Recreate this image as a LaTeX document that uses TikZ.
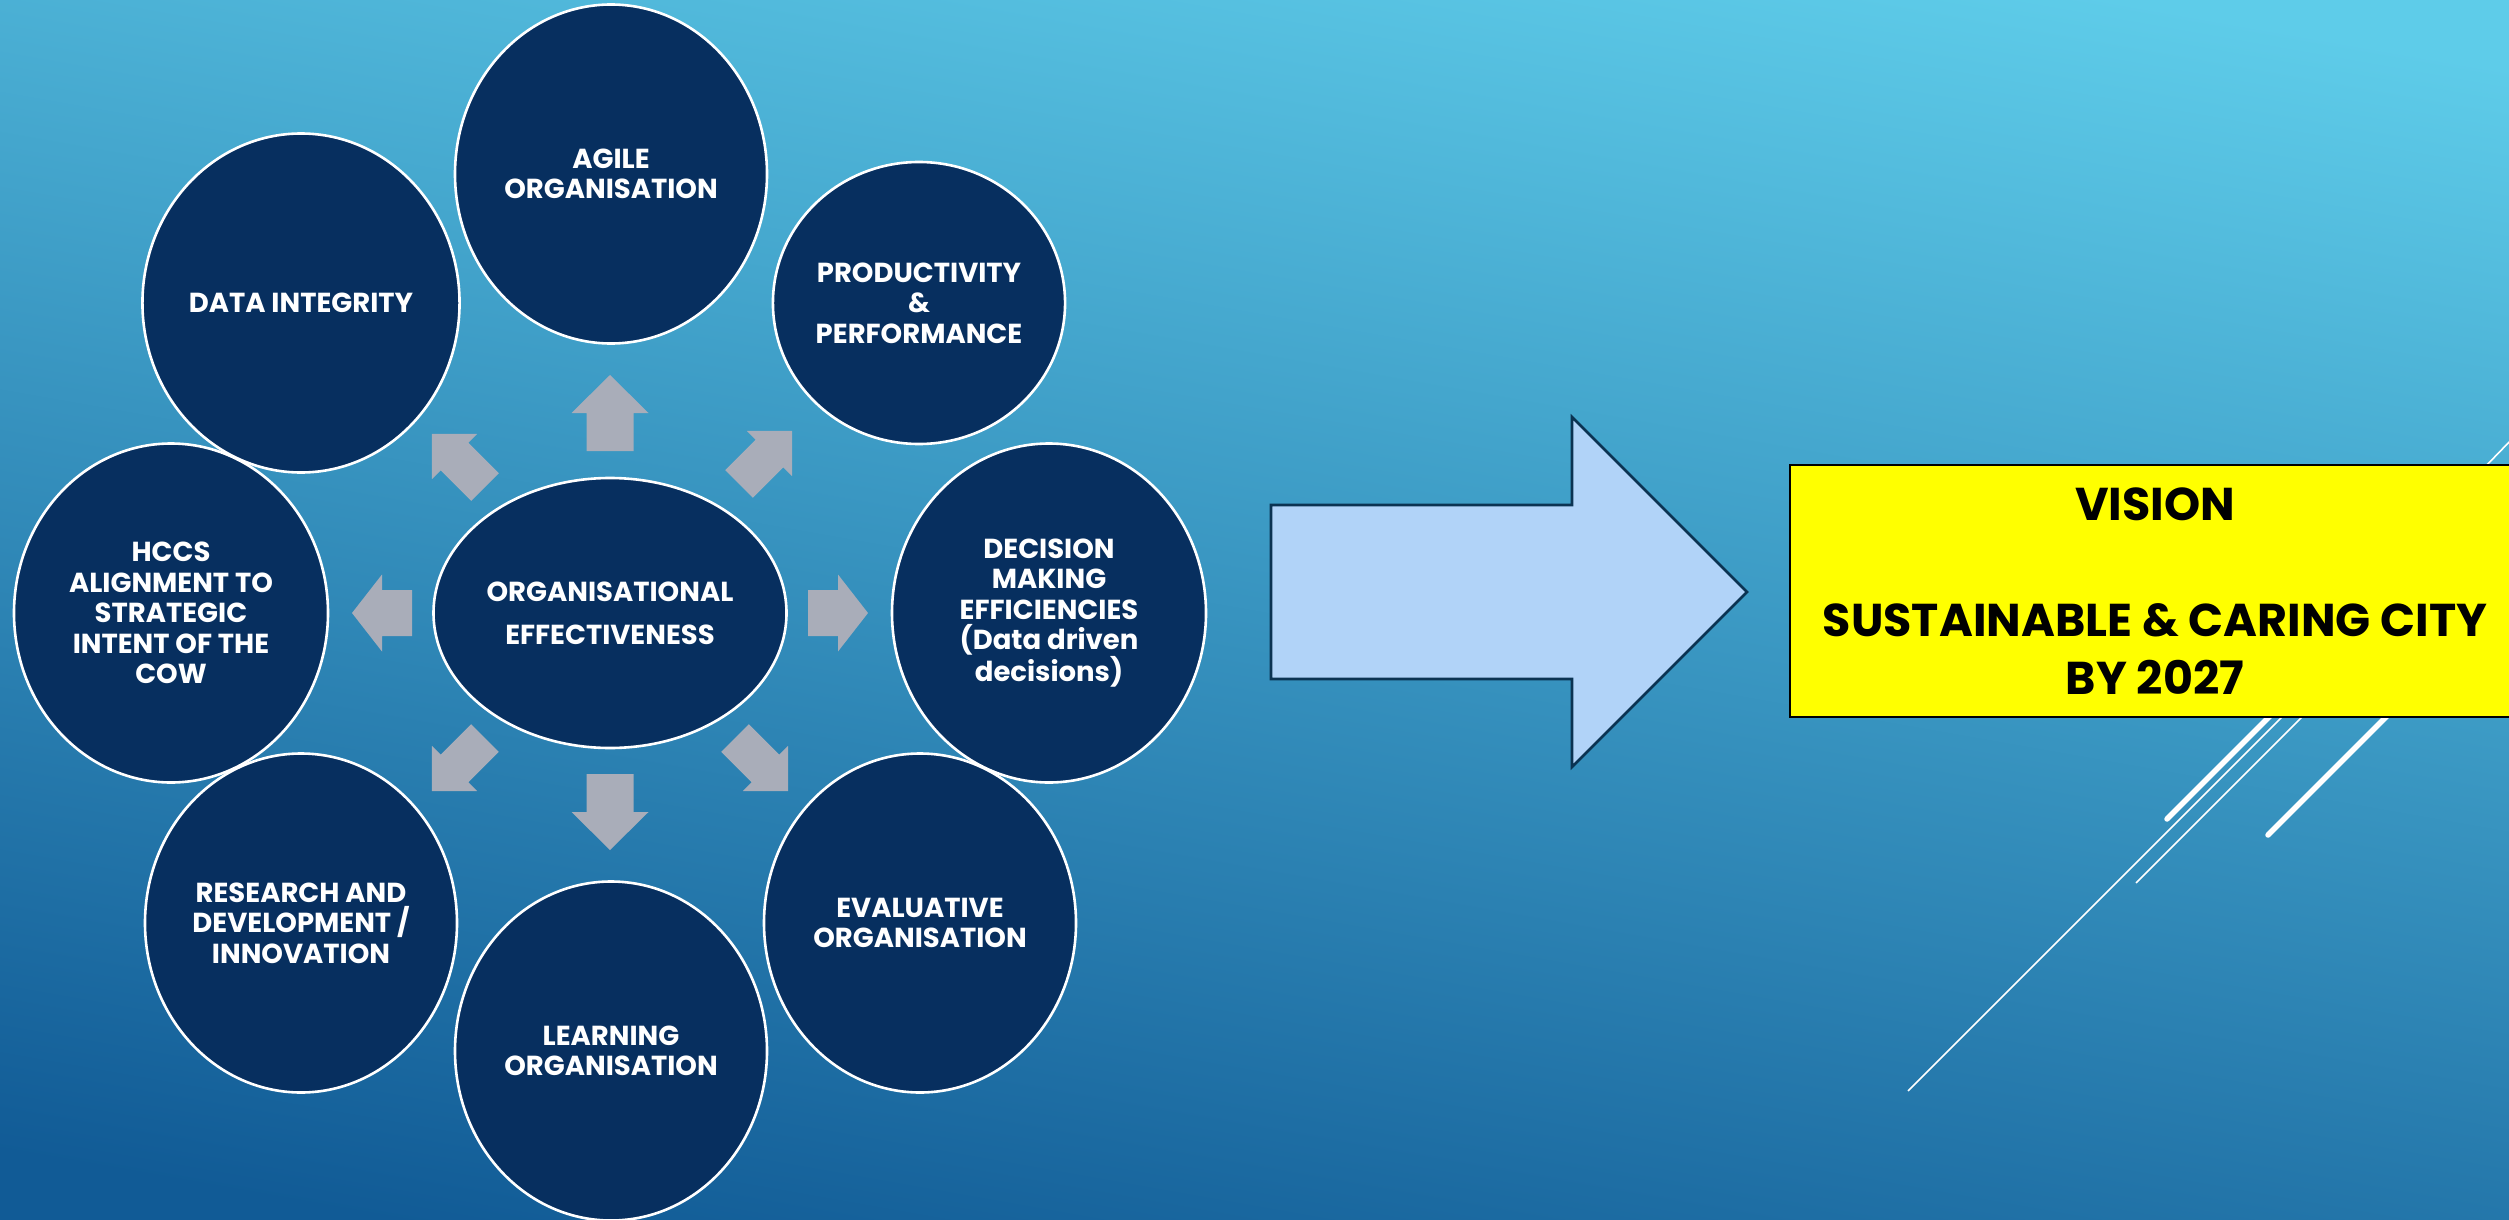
\documentclass[tikz,border=0pt]{standalone}
\usepackage{fontspec}
\setmainfont{Poppins}
\usetikzlibrary{shapes.geometric}
\definecolor{navy}{HTML}{072F5F}
\definecolor{arrowgrey}{HTML}{A9ADB9}
\definecolor{bigfill}{HTML}{B1D3F8}
\definecolor{bigedge}{HTML}{0B3352}
\definecolor{bgtop}{HTML}{5ECCE9}
\definecolor{bgbot}{HTML}{115B96}
\definecolor{visionyellow}{HTML}{FFFF00}
\tikzset{
  bubble/.style={ellipse, draw=white, line width=2.6pt, fill=navy, text=white,
    inner sep=0pt, align=center, minimum width=312pt, minimum height=339pt,
    font=\bfseries\fontsize{27.5}{30.5}\selectfont},
  smallarrow/.style={fill=arrowgrey},
  bigarrow/.style={fill=bigfill, draw=bigedge, line width=2.6pt, line join=miter},
  visionbox/.style={rectangle, fill=visionyellow, draw=black, line width=2pt,
    minimum width=731pt, minimum height=252pt, align=center, inner sep=0pt,
    font=\bfseries\fontsize{46}{58}\selectfont},
  decothin/.style={white, line width=1.6pt},
  decothick/.style={white, line width=5.5pt, line cap=round},
}
% #1,#2 tail centre; #3 angle; #4 shaft length; #5 head length; #6 shaft half width; #7 head half width
\newcommand\blkarrow[7]{%
  \fill[smallarrow, shift={(#1,#2)}, rotate=#3]
    (0,-#6) -- (#4,-#6) -- (#4,-#7) -- ({#4+#5},0) -- (#4,#7) -- (#4,#6) -- (0,#6) -- cycle;}
\begin{document}
\begin{tikzpicture}[x=1pt,y=-1pt]
\useasboundingbox (0,0) rectangle (2509,1220);
\clip (0,0) rectangle (2509,1220);
\shade[top color=bgtop, bottom color=bgbot, shading angle=-10] (-50,-50) rectangle (2560,1270);

% decorative lines
\coordinate (la1) at (1908,1091); \coordinate (la2) at (2300,699);
\coordinate (lb1) at (2136,883);  \coordinate (lb2) at (2318,701);
\coordinate (lc1) at (2167,819);  \coordinate (lc2) at (2285,701);
\coordinate (ld1) at (2268,835);  \coordinate (ld2) at (2402,701);
\coordinate (le1) at (2450,503);  \coordinate (le2) at (2545,405);
\draw[decothin] (la1) -- (la2);
\draw[decothin] (lb1) -- (lb2);
\draw[decothick] (lc1) -- (lc2);
\draw[decothick] (ld1) -- (ld2);
\draw[decothin] (le1) -- (le2);

% small arrows around the core
\blkarrow{610}{451}{90}{38}{38}{23.5}{38.5}
\blkarrow{610}{774}{270}{38}{38}{23.5}{38.5}
\blkarrow{808}{613}{0}{30}{30}{23}{38.5}
\blkarrow{412}{613}{180}{30}{30}{23}{38.5}
\blkarrow{739}{484}{45}{43}{32}{19.5}{32}
\blkarrow{485}{487}{135}{43}{32}{19.5}{32}
\blkarrow{735}{738}{315}{43}{32}{19.5}{32}
\blkarrow{485}{738}{225}{43}{32}{19.5}{32}

% outer bubbles
\node[bubble] (agile) at (611,174) {AGILE\\ORGANISATION};
\node[bubble, minimum width=282pt, minimum height=282pt] (prod) at (919,303) {PRODUCTIVITY\\\&\\PERFORMANCE};
\node[bubble, minimum width=314pt] (decision) at (1049,613) {DECISION\\MAKING\\EFFICIENCIES\\(Data driven\\decisions)};
\node[bubble] (eval) at (920,923) {EVALUATIVE\\ORGANISATION};
\node[bubble] (learning) at (611,1051) {LEARNING\\ORGANISATION};
\node[bubble] (research) at (301,923) {RESEARCH AND\\DEVELOPMENT /\\INNOVATION};
\node[bubble, minimum width=314pt] (hccs) at (171,613) {HCCS\\ALIGNMENT TO\\STRATEGIC\\INTENT OF THE\\COW};
\node[bubble] (data) at (301,303) {DATA INTEGRITY};

% core
\node[bubble, minimum width=353pt, minimum height=270pt,
  font=\bfseries\fontsize{27.5}{43}\selectfont] (core) at (610,613) {ORGANISATIONAL\\EFFECTIVENESS};

% big arrow
\draw[bigarrow] (1271,505) -- (1572,505) -- (1572,417) -- (1747,592)
  -- (1572,767) -- (1572,679) -- (1271,679) -- cycle;

% vision box
\node[visionbox] (vision) at (2155,591)
  {VISION\\\mbox{}\\SUSTAINABLE \& CARING CITY\\BY 2027};
\end{tikzpicture}
\end{document}
